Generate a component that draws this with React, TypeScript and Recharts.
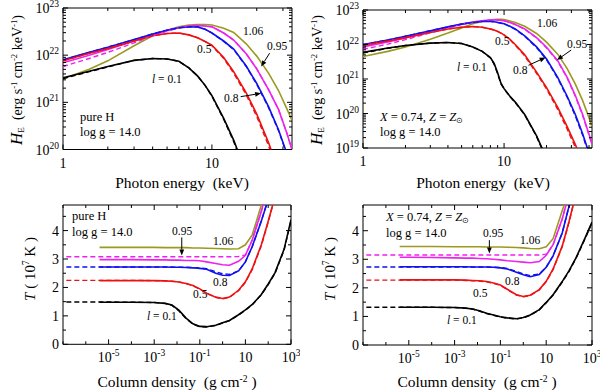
import React from "react";
import { LineChart, Line, XAxis, YAxis, ReferenceArea, ReferenceLine } from "recharts";

const FONT = '"Liberation Serif", "Times New Roman", serif';

const BLACK = "#000000";
const RED = "#ee1111";
const BLUE = "#1111ee";
const MAGENTA = "#ee22ee";
const OLIVE = "#9a9a20";

// ---- spectra: photon energy (keV) and log10 H_E
const energyPureH = [1, 1.5, 2, 3, 4, 5, 6, 7, 8, 9, 10, 12, 14, 17, 20, 24, 28, 32, 35];
const hPureH_010 = [21.52, 21.66, 21.76, 21.89, 21.93, 21.92, 21.87, 21.73, 21.56, 21.36, 21.14, 20.66, 20.2, 19.5, null, null, null, null, null];
const hPureH_010d = [21.5, 21.65, 21.75, 21.89, 21.93, 21.92, 21.87, 21.73, 21.56, 21.36, 21.13, 20.64, 20.17, 19.46, null, null, null, null, null];
const hPureH_050 = [21.88, 22.04, 22.14, 22.3, 22.41, 22.46, 22.47, 22.43, 22.37, 22.29, 22.21, 21.95, 21.65, 21.2, 20.75, 20.15, 19.55, null, null];
const hPureH_050d = [21.88, 22.04, 22.14, 22.3, 22.41, 22.46, 22.47, 22.43, 22.37, 22.29, 22.2, 21.93, 21.62, 21.16, 20.7, 20.08, 19.47, null, null];
const hPureH_080 = [21.9, 22.06, 22.17, 22.33, 22.45, 22.53, 22.58, 22.6, 22.6, 22.55, 22.47, 22.3, 22.13, 21.77, 21.4, 20.91, 20.42, 19.9, 19.52];
const hPureH_080d = [21.9, 22.06, 22.17, 22.33, 22.45, 22.53, 22.58, 22.6, 22.6, 22.55, 22.47, 22.29, 22.12, 21.76, 21.38, 20.89, 20.4, 19.88, 19.5];
const hPureH_095 = [21.84, 22.0, 22.12, 22.3, 22.43, 22.52, 22.58, 22.62, 22.63, 22.62, 22.6, 22.47, 22.32, 22.03, 21.71, 21.27, 20.85, 20.33, 19.93];
const hPureH_095d = [21.76, 21.93, 22.06, 22.26, 22.41, 22.51, 22.58, 22.62, 22.63, 22.62, 22.6, 22.47, 22.32, 22.03, 21.71, 21.27, 20.85, 20.33, 19.93];
const hPureH_106 = [21.5, 21.7, 21.88, 22.2, 22.41, 22.53, 22.6, 22.64, 22.65, 22.65, 22.64, 22.57, 22.48, 22.24, 21.98, 21.62, 21.25, 20.85, 20.57];

const energySolar = [1, 1.5, 2, 3, 4, 5, 6, 7, 8, 8.5, 9, 9.5, 10, 11, 12, 14, 17, 20, 24, 28, 32, 36, 40, 42];
const hSolar_010 = [21.77, 21.9, 21.97, 22.04, 22.06, 22.03, 21.93, 21.8, 21.62, 21.45, 21.18, 20.88, 20.72, 20.5, 20.33, 19.97, 19.35, 18.7, null, null, null, null, null, null];
const hSolar_010d = [21.75, 21.89, 21.97, 22.04, 22.06, 22.03, 21.93, 21.8, 21.61, 21.43, 21.15, 20.86, 20.71, 20.49, 20.32, 19.96, 19.33, 18.68, null, null, null, null, null, null];
const hSolar_050 = [21.98, 22.1, 22.2, 22.35, 22.45, 22.5, 22.52, 22.5, 22.45, 22.42, 22.38, 22.33, 22.28, 22.15, 22.0, 21.7, 21.2, 20.75, 20.18, 19.62, 19.1, 18.6, null, null];
const hSolar_050d = [21.98, 22.1, 22.2, 22.35, 22.45, 22.5, 22.52, 22.5, 22.45, 22.42, 22.38, 22.33, 22.27, 22.14, 21.98, 21.67, 21.16, 20.71, 20.12, 19.55, 19.02, 18.5, null, null];
const hSolar_080 = [22.0, 22.13, 22.24, 22.4, 22.51, 22.59, 22.64, 22.67, 22.67, 22.66, 22.64, 22.62, 22.6, 22.53, 22.45, 22.25, 21.93, 21.58, 21.05, 20.5, 19.97, 19.42, 18.85, null];
const hSolar_080d = [22.0, 22.13, 22.24, 22.4, 22.51, 22.59, 22.64, 22.67, 22.67, 22.66, 22.64, 22.62, 22.6, 22.52, 22.44, 22.24, 21.91, 21.56, 21.02, 20.47, 19.93, 19.38, 18.8, null];
const hSolar_095 = [21.93, 22.07, 22.19, 22.37, 22.5, 22.59, 22.65, 22.69, 22.71, 22.71, 22.71, 22.7, 22.69, 22.64, 22.58, 22.45, 22.2, 21.92, 21.53, 21.05, 20.52, 19.98, 19.4, 19.12];
const hSolar_095d = [21.86, 22.01, 22.14, 22.34, 22.48, 22.58, 22.65, 22.69, 22.71, 22.71, 22.71, 22.7, 22.69, 22.64, 22.58, 22.44, 22.19, 21.9, 21.51, 21.03, 20.5, 19.95, 19.37, 19.09];
const hSolar_106 = [21.65, 21.8, 21.93, 22.15, 22.33, 22.48, 22.6, 22.67, 22.71, 22.72, 22.73, 22.73, 22.72, 22.68, 22.64, 22.53, 22.32, 22.07, 21.72, 21.3, 20.85, 20.38, 19.88, 19.62];

// ---- temperature structure: column density (g cm^-2) and T (10^7 K)
const columnDensity = [1.4e-7, 4e-6, 1e-5, 1e-4, 1e-3, 3e-3, 6e-3, 1.2e-2, 2.5e-2, 5e-2, 0.1, 0.2, 0.5, 1, 2, 5, 10, 20, 50, 100, 200, 500, 1000];
const tPureH_010 = [null, 1.48, 1.48, 1.48, 1.47, 1.44, 1.38, 1.2, 0.92, 0.72, 0.63, 0.62, 0.67, 0.76, 0.84, 1.04, 1.21, 1.4, 1.75, 2.12, 2.52, 3.35, 4.38];
const tPureH_010d = [1.49, 1.49, 1.49, 1.48, 1.47, 1.44, 1.37, 1.18, 0.9, 0.71, 0.62, 0.61, 0.66, 0.75, 0.83, 1.03, 1.2, 1.39, 1.74, 2.1, 2.5, 3.32, 4.35];
const tPureH_050 = [null, 2.24, 2.24, 2.24, 2.24, 2.23, 2.22, 2.19, 2.14, 2.07, 1.95, 1.8, 1.66, 1.61, 1.66, 1.9, 2.2, 2.66, 3.5, 4.33, 5.2, null, null];
const tPureH_050d = [2.25, 2.25, 2.25, 2.25, 2.24, 2.23, 2.22, 2.19, 2.14, 2.06, 1.94, 1.79, 1.65, 1.6, 1.65, 1.88, 2.18, 2.63, 3.47, 4.3, 5.2, null, null];
const tPureH_080 = [null, 2.72, 2.72, 2.72, 2.72, 2.72, 2.71, 2.71, 2.7, 2.69, 2.67, 2.64, 2.5, 2.43, 2.42, 2.58, 2.9, 3.44, 4.34, 5.1, null, null, null];
const tPureH_080d = [2.72, 2.72, 2.72, 2.72, 2.72, 2.72, 2.72, 2.71, 2.71, 2.7, 2.68, 2.66, 2.55, 2.48, 2.46, 2.58, 2.9, 3.44, 4.34, 5.1, null, null, null];
const tPureH_095 = [null, 2.98, 2.98, 2.98, 2.97, 2.97, 2.96, 2.96, 2.95, 2.95, 2.94, 2.9, 2.84, 2.8, 2.78, 2.92, 3.13, 3.67, 4.68, 5.6, null, null, null];
const tPureH_095d = [3.08, 3.08, 3.08, 3.08, 3.08, 3.08, 3.08, 3.08, 3.08, 3.08, 3.08, 3.08, 3.08, 3.08, 3.08, 3.09, 3.14, 3.67, 4.68, 5.6, null, null, null];
const tPureH_106 = [null, 3.41, 3.41, 3.41, 3.41, 3.4, 3.4, 3.4, 3.4, 3.39, 3.39, 3.38, 3.37, 3.36, 3.35, 3.36, 3.5, 3.85, 4.9, 5.7, null, null, null];

const tSolar_010 = [null, 1.32, 1.32, 1.32, 1.31, 1.29, 1.26, 1.2, 1.11, 1.05, 0.99, 0.95, 0.92, 0.96, 1.05, 1.24, 1.49, 1.76, 2.22, 2.6, 3.05, 3.75, 4.3];
const tSolar_010d = [1.32, 1.32, 1.32, 1.32, 1.31, 1.29, 1.26, 1.19, 1.1, 1.04, 0.98, 0.94, 0.91, 0.95, 1.04, 1.23, 1.48, 1.75, 2.2, 2.58, 3.03, 3.72, 4.28];
const tSolar_050 = [null, 2.28, 2.28, 2.28, 2.28, 2.27, 2.26, 2.25, 2.22, 2.17, 2.1, 1.95, 1.76, 1.7, 1.74, 1.94, 2.23, 2.66, 3.46, 4.33, 5.3, null, null];
const tSolar_050d = [2.27, 2.27, 2.27, 2.27, 2.27, 2.26, 2.25, 2.24, 2.21, 2.16, 2.09, 1.94, 1.75, 1.69, 1.73, 1.93, 2.22, 2.64, 3.44, 4.3, 5.3, null, null];
const tSolar_080 = [null, 2.74, 2.74, 2.74, 2.74, 2.74, 2.73, 2.73, 2.73, 2.72, 2.7, 2.66, 2.55, 2.46, 2.39, 2.47, 2.72, 3.12, 3.92, 4.87, 5.6, null, null];
const tSolar_080d = [2.73, 2.73, 2.73, 2.73, 2.73, 2.73, 2.73, 2.73, 2.73, 2.72, 2.71, 2.68, 2.58, 2.49, 2.43, 2.49, 2.72, 3.12, 3.92, 4.87, 5.6, null, null];
const tSolar_095 = [null, 3.07, 3.07, 3.06, 3.05, 3.04, 3.04, 3.03, 3.02, 3.0, 2.98, 2.95, 2.92, 2.9, 2.88, 2.92, 3.14, 3.51, 4.41, 5.3, null, null, null];
const tSolar_095d = [3.15, 3.15, 3.15, 3.15, 3.15, 3.15, 3.15, 3.15, 3.15, 3.15, 3.15, 3.15, 3.15, 3.15, 3.15, 3.15, 3.18, 3.51, 4.41, 5.3, null, null, null];
const tSolar_106 = [null, 3.45, 3.45, 3.45, 3.44, 3.44, 3.44, 3.44, 3.43, 3.43, 3.43, 3.42, 3.41, 3.4, 3.38, 3.37, 3.44, 3.72, 4.7, 5.4, null, null, null];

// arrows: [xFrom, yFrom, xTo, yTo] in data units
const arrowsPureH = [[15.6, 1.32e21, 21.4, 1.55e21], [24.4, 1.1e22, 21.4, 5.75e21]];
const arrowsSolar = [[14.9, 2.5e21, 19.7, 4.2e21], [29.9, 6.9e21, 23.7, 3.55e21]];
const arrowsTPureH = [[0.0162, 3.76, 0.0162, 3.12]];
const arrowsTSolar = [[0.033, 3.67, 0.033, 3.2]];

type Series = (number | null)[];

const buildRows = (x: number[], s: Record<string, Series>, fromLog: boolean) =>
  x.map((v, i) => {
    const row: Record<string, number | null> = { x: v };
    Object.keys(s).forEach((k) => {
      const val = s[k][i];
      row[k] = val == null ? null : fromLog ? Math.pow(10, val) : val;
    });
    return row;
  });

const rowsHPureH = buildRows(energyPureH, { s010: hPureH_010, d010: hPureH_010d, s050: hPureH_050, d050: hPureH_050d, s080: hPureH_080, d080: hPureH_080d, s095: hPureH_095, d095: hPureH_095d, s106: hPureH_106 }, true);
const rowsHSolar = buildRows(energySolar, { s010: hSolar_010, d010: hSolar_010d, s050: hSolar_050, d050: hSolar_050d, s080: hSolar_080, d080: hSolar_080d, s095: hSolar_095, d095: hSolar_095d, s106: hSolar_106 }, true);
const rowsTPureH = buildRows(columnDensity, { s010: tPureH_010, d010: tPureH_010d, s050: tPureH_050, d050: tPureH_050d, s080: tPureH_080, d080: tPureH_080d, s095: tPureH_095, d095: tPureH_095d, s106: tPureH_106 }, false);
const rowsTSolar = buildRows(columnDensity, { s010: tSolar_010, d010: tSolar_010d, s050: tSolar_050, d050: tSolar_050d, s080: tSolar_080, d080: tSolar_080d, s095: tSolar_095, d095: tSolar_095d, s106: tSolar_106 }, false);

const SOLID = [
  { key: "s106", color: OLIVE },
  { key: "s095", color: MAGENTA },
  { key: "s080", color: BLUE },
  { key: "s050", color: RED },
  { key: "s010", color: BLACK },
];
const DASHED = [
  { key: "d095", color: MAGENTA },
  { key: "d080", color: BLUE },
  { key: "d050", color: RED },
  { key: "d010", color: BLACK },
];

// ---- ticks
const decades = (a: number, b: number) => {
  const out: number[] = [];
  for (let e = a; e <= b; e++) out.push(Number(`1e${e}`));
  return out;
};
const logMinor = (a: number, b: number) => {
  const out: number[] = [];
  for (let e = a; e < b; e++) for (let k = 2; k <= 9; k++) out.push(Number(`${k}e${e}`));
  return out;
};
const expOf = (v: number) => Math.round(Math.log10(v));
const isDecade = (v: number) => Math.abs(Math.log10(v) - expOf(v)) < 1e-9;

const energyTicksL = [1, 2, 3, 4, 5, 6, 7, 8, 9, 10, 20, 30];
const energyTicksR = [1, 2, 3, 4, 5, 6, 7, 8, 9, 10, 20, 30, 40];
const fluxTicksL = [...decades(20, 23), ...logMinor(20, 23)];
const fluxTicksR = [...decades(19, 23), ...logMinor(19, 23)];
const columnTicks = decades(-7, 3);
const columnLabelled = [1e-5, 1e-3, 1e-1, 10, 1e3];
const tempTicks = [0, 0.5, 1, 1.5, 2, 2.5, 3, 3.5, 4, 4.5];

type Lab = { base: string; exp?: string } | null;
const energyLabel = (v: number): Lab => (v === 1 || v === 10 ? { base: String(v) } : null);
const fluxLabel = (v: number): Lab => (isDecade(v) ? { base: "10", exp: String(expOf(v)) } : null);
const columnLabel = (v: number): Lab =>
  columnLabelled.some((c) => Math.abs(Math.log10(c) - Math.log10(v)) < 1e-9)
    ? v === 10
      ? { base: "10" }
      : { base: "10", exp: String(expOf(v)) }
    : null;
const tempLabel = (v: number): Lab => (Number.isInteger(v) ? { base: String(v) } : null);

type Frame = { left: number; right: number; top: number; bottom: number };

const LabelText = ({ lab, x, y, anchor }: { lab: Lab; x: number; y: number; anchor: "middle" | "end" }) =>
  lab ? (
    <text x={x} y={y} textAnchor={anchor} fontFamily={FONT} fontSize={14} fill="#000">
      {lab.base}
      {lab.exp && (
        <tspan dy={-6} fontSize={9.5}>
          {lab.exp}
        </tspan>
      )}
    </text>
  ) : null;

const xTick = (f: Frame, label: (v: number) => Lab) => (p: any) => {
  const v = p.payload.value;
  const lab = label(v);
  const len = lab ? 5 : 3;
  const x = p.x;
  return (
    <g>
      <line x1={x} x2={x} y1={f.bottom} y2={f.bottom - len} stroke="#000" strokeWidth={1} />
      <line x1={x} x2={x} y1={f.top} y2={f.top + len} stroke="#000" strokeWidth={1} />
      <LabelText lab={lab} x={x} y={f.bottom + 18} anchor="middle" />
    </g>
  );
};

const yTick = (f: Frame, label: (v: number) => Lab) => (p: any) => {
  const v = p.payload.value;
  const lab = label(v);
  const len = lab ? 5 : 3;
  const y = p.y;
  return (
    <g>
      <line x1={f.left} x2={f.left + len} y1={y} y2={y} stroke="#000" strokeWidth={1} />
      <line x1={f.right - len} x2={f.right} y1={y} y2={y} stroke="#000" strokeWidth={1} />
      <LabelText lab={lab} x={f.left - 4} y={y + 5} anchor="end" />
    </g>
  );
};

const arrowShape = (p: any) => {
  const { x1, y1, x2, y2 } = p;
  const a = Math.atan2(y2 - y1, x2 - x1);
  const L = 6;
  const W = 2.4;
  const bx = x2 - L * Math.cos(a);
  const by = y2 - L * Math.sin(a);
  const pts = `${x2},${y2} ${bx - W * Math.sin(a)},${by + W * Math.cos(a)} ${bx + W * Math.sin(a)},${by - W * Math.cos(a)}`;
  return (
    <g>
      <line x1={x1} y1={y1} x2={bx} y2={by} stroke="#000" strokeWidth={1} />
      <polygon points={pts} fill="#000" />
    </g>
  );
};

interface PanelProps {
  left: number;
  top: number;
  mt: number;
  mr: number;
  mb: number;
  rows: Record<string, number | null>[];
  xDomain: [number, number];
  yDomain: [number, number];
  yLog: boolean;
  xTicks: number[];
  yTicks: number[];
  xLabel: (v: number) => Lab;
  yLabel: (v: number) => Lab;
  arrows: number[][];
}

function Panel({ left, top, mt, mr, mb, rows, xDomain, yDomain, yLog, xTicks, yTicks, xLabel, yLabel, arrows }: PanelProps) {
  const W = 300;
  const H = 196;
  const f: Frame = { left: 63, right: W - mr, top: mt, bottom: H - mb - 30 };
  return (
    <div style={{ position: "absolute", left, top }}>
      <LineChart width={W} height={H} data={rows} margin={{ top: mt, right: mr, bottom: mb, left: 0 }}>
        <XAxis
          dataKey="x"
          type="number"
          scale="log"
          domain={xDomain}
          allowDataOverflow
          ticks={xTicks}
          interval={0}
          height={30}
          axisLine={false}
          tickLine={false}
          tickSize={0}
          tick={xTick(f, xLabel)}
        />
        <YAxis
          type="number"
          scale={yLog ? "log" : "linear"}
          domain={yDomain}
          allowDataOverflow
          ticks={yTicks}
          interval={0}
          width={63}
          axisLine={false}
          tickLine={false}
          tickSize={0}
          tick={yTick(f, yLabel)}
        />
        <ReferenceArea x1={xDomain[0]} x2={xDomain[1]} y1={yDomain[0]} y2={yDomain[1]} fill="none" stroke="#000" strokeWidth={1} ifOverflow="visible" />
        {SOLID.map((s) => (
          <Line key={s.key} dataKey={s.key} stroke={s.color} strokeWidth={1.6} dot={false} activeDot={false} isAnimationActive={false} />
        ))}
        {DASHED.map((s) => (
          <Line key={s.key} dataKey={s.key} stroke={s.color} strokeWidth={1.4} strokeDasharray="5 3" dot={false} activeDot={false} isAnimationActive={false} />
        ))}
        {arrows.map((a, i) => (
          <ReferenceLine key={i} segment={[{ x: a[0], y: a[1] }, { x: a[2], y: a[3] }]} shape={arrowShape} ifOverflow="visible" />
        ))}
      </LineChart>
    </div>
  );
}

const Note = ({ x, y, size = 11.5, children }: { x: number; y: number; size?: number; children: React.ReactNode }) => (
  <div style={{ position: "absolute", left: x, top: y, fontSize: size, lineHeight: 1, whiteSpace: "nowrap" }}>{children}</div>
);

const Title = ({ x, y, rotate, size = 15.5, children }: { x: number; y: number; rotate?: boolean; size?: number; children: React.ReactNode }) => (
  <div
    style={{
      position: "absolute",
      left: x,
      top: y,
      fontSize: size,
      lineHeight: 1,
      whiteSpace: "nowrap",
      transform: `translate(-50%, -50%)${rotate ? " rotate(-90deg)" : ""}`,
    }}
  >
    {children}
  </div>
);

const sup = (t: string) => <sup style={{ fontSize: "62%", verticalAlign: "0.55em", lineHeight: 0 }}>{t}</sup>;
const sub = (t: string) => <sub style={{ fontSize: "65%", verticalAlign: "-0.3em", lineHeight: 0 }}>{t}</sub>;

const fluxTitle = (
  <span>
    <i style={{ fontSize: 17 }}>H</i>
    {sub("E")}&nbsp; (erg s{sup("-1")} cm{sup("-2")} keV{sup("-1")})
  </span>
);
const tempTitle = (
  <span>
    <i>T</i> ( 10{sup("7")} K )
  </span>
);
const columnTitle = <span>Column density&nbsp; (g cm{sup("-2")} )</span>;
const energyTitle = <span>Photon energy&nbsp; (keV)</span>;
const solarLabel = (
  <span>
    <i>X</i> = 0.74, <i>Z</i> = <i>Z</i>
    {sub("⊙")}
  </span>
);

export default function App() {
  return (
    <div style={{ position: "fixed", left: 0, top: 0, width: 600, height: 392, background: "#fff", fontFamily: FONT, color: "#000", overflow: "hidden" }}>
      <Panel left={0} top={0} mt={8} mr={8} mb={16.5} rows={rowsHPureH} xDomain={[1, 34.5]} yDomain={[1e20, 1e23]} yLog xTicks={energyTicksL} yTicks={fluxTicksL} xLabel={energyLabel} yLabel={fluxLabel} arrows={arrowsPureH} />
      <Panel left={300} top={0} mt={10} mr={8} mb={18} rows={rowsHSolar} xDomain={[1, 42]} yDomain={[1e19, 1e23]} yLog xTicks={energyTicksR} yTicks={fluxTicksR} xLabel={energyLabel} yLabel={fluxLabel} arrows={arrowsSolar} />
      <Panel left={0} top={196} mt={9} mr={9} mb={17.7} rows={rowsTPureH} xDomain={[1e-7, 1e3]} yDomain={[0, 4.9]} yLog={false} xTicks={columnTicks} yTicks={tempTicks} xLabel={columnLabel} yLabel={tempLabel} arrows={arrowsTPureH} />
      <Panel left={300} top={196} mt={9} mr={8} mb={17} rows={rowsTSolar} xDomain={[1e-7, 1e3]} yDomain={[0, 4.9]} yLog={false} xTicks={columnTicks} yTicks={tempTicks} xLabel={columnLabel} yLabel={tempLabel} arrows={arrowsTSolar} />

      <Title x={182} y={183}>{energyTitle}</Title>
      <Title x={483} y={183}>{energyTitle}</Title>
      <Title x={177} y={382}>{columnTitle}</Title>
      <Title x={477} y={382}>{columnTitle}</Title>
      <Title x={16} y={80} rotate size={14}>{fluxTitle}</Title>
      <Title x={316} y={80} rotate size={14}>{fluxTitle}</Title>
      <Title x={30} y={269} rotate size={15}>{tempTitle}</Title>
      <Title x={330} y={269} rotate size={15}>{tempTitle}</Title>

      {/* top left */}
      <Note x={243} y={26}>1.06</Note>
      <Note x={267} y={41}>0.95</Note>
      <Note x={197} y={44}>0.5</Note>
      <Note x={152} y={74}><i>l</i> = 0.1</Note>
      <Note x={224} y={93}>0.8</Note>
      <Note x={80} y={111} size={12.5}>pure H</Note>
      <Note x={80} y={126} size={12.5}>log g = 14.0</Note>

      {/* top right */}
      <Note x={537} y={18}>1.06</Note>
      <Note x={567} y={39}>0.95</Note>
      <Note x={495} y={36}>0.5</Note>
      <Note x={457} y={62}><i>l</i> = 0.1</Note>
      <Note x={513} y={65}>0.8</Note>
      <Note x={380} y={111} size={12.5}>{solarLabel}</Note>
      <Note x={380} y={126} size={12.5}>log g = 14.0</Note>

      {/* bottom left */}
      <Note x={72} y={210} size={12.5}>pure H</Note>
      <Note x={72} y={226} size={12.5}>log g = 14.0</Note>
      <Note x={172} y={226}>0.95</Note>
      <Note x={213} y={236}>1.06</Note>
      <Note x={213} y={277}>0.8</Note>
      <Note x={193} y={289}>0.5</Note>
      <Note x={147} y={311}><i>l</i> = 0.1</Note>

      {/* bottom right */}
      <Note x={386} y={211} size={12.5}>{solarLabel}</Note>
      <Note x={386} y={227} size={12.5}>log g = 14.0</Note>
      <Note x={483} y={228}>0.95</Note>
      <Note x={520} y={235}>1.06</Note>
      <Note x={505} y={276}>0.8</Note>
      <Note x={473} y={288}>0.5</Note>
      <Note x={447} y={315}><i>l</i> = 0.1</Note>
    </div>
  );
}
